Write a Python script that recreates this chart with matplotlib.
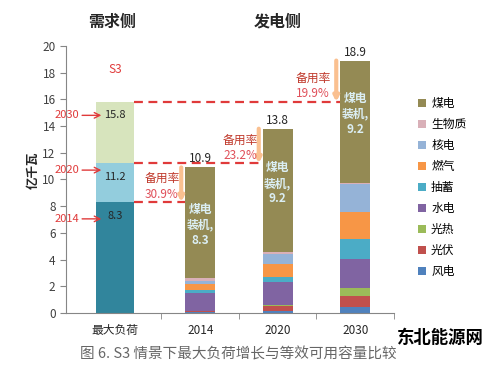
import numpy as np
import matplotlib
matplotlib.use("Agg")
import matplotlib.pyplot as plt
from matplotlib.patches import Patch

plt.rcParams['font.family'] = ['Noto Sans CJK SC', 'DejaVu Sans']

# demand side (max load), stacked as increments
demand_years = ['2014', '2020', '2030']
demand_totals = [8.3, 11.2, 15.8]
demand_colors = ['#31859c', '#93cddd', '#d7e4bd']

# supply side
years = ['2014', '2020', '2030']
sources = ['风电', '光伏', '光热', '水电', '抽蓄', '燃气', '核电', '生物质', '煤电']
colors = ['#4f81bd', '#c0504d', '#9bbb59', '#8064a2', '#4bacc6',
          '#f79646', '#95b3d7', '#d9b0b8', '#948a54']
values = {
    '风电':   [0.10, 0.15, 0.45],
    '光伏':   [0.03, 0.40, 0.80],
    '光热':   [0.00, 0.05, 0.60],
    '水电':   [1.40, 1.75, 2.20],
    '抽蓄':   [0.17, 0.35, 1.50],
    '燃气':   [0.50, 1.00, 2.00],
    '核电':   [0.20, 0.75, 2.10],
    '生物质': [0.20, 0.15, 0.05],
    '煤电':   [8.30, 9.20, 9.20],
}
totals = [10.9, 13.8, 18.9]
reserve = ['30.9%', '23.2%', '19.9%']

fig = plt.figure(figsize=(5.0, 3.67), dpi=100)
ax = fig.add_axes([0.132, 0.147, 0.656, 0.728])

red = '#e03a3a'
xd = -0.1
wd = 0.49
xs = np.array([1.0, 2.0, 3.0])
w = 0.387

# demand bar
bottom = 0
for t, c in zip(demand_totals, demand_colors):
    ax.bar(xd, t - bottom, wd, bottom=bottom, color=c, zorder=2)
    ax.text(xd, t - 1.0, f'{t}', ha='center', va='center', fontsize=8, color='#262626')
    bottom = t

# supply bars
bottom = np.zeros(3)
for s, c in zip(sources, colors):
    v = np.array(values[s])
    ax.bar(xs, v, w, bottom=bottom, color=c, zorder=2)
    bottom += v

for x, t in zip(xs, totals):
    ax.text(x, t + 0.15, f'{t}', ha='center', va='bottom', fontsize=8.5, color='#262626')

coal_y = [6.6, 9.7, 14.9]
for x, y, v in zip(xs, coal_y, values['煤电']):
    ax.text(x, y, f'煤电\n装机,\n{v}', ha='center', va='center', fontsize=8.5,
            color='#dbeef3', fontweight='bold', linespacing=1.25, zorder=3)

# dashed lines from demand bar to supply bars
for i, d in enumerate(demand_totals):
    ax.hlines(d, xd + wd / 2, xs[i] - w / 2, colors=red, linestyles=(0, (4, 2.5)),
              lw=1.6, zorder=3)

# year arrows on demand bar
arrow_y = [7.05, 10.7, 14.8]
for yr, y in zip(demand_years, arrow_y):
    ax.annotate('', xy=(-0.24, y), xytext=(-0.56, y),
                arrowprops=dict(arrowstyle='->', color=red, lw=1.0), annotation_clip=False)
    ax.text(-0.56, y, yr, ha='right', va='center', fontsize=8, color=red, clip_on=False)

# reserve arrows and labels
lab_x = [0.506, 1.513, 2.455]
for i, x in enumerate(xs):
    ax.annotate('', xy=(x - 0.245, demand_totals[i]), xytext=(x - 0.245, totals[i]),
                arrowprops=dict(arrowstyle='-|>', color='#fac090', lw=3, mutation_scale=7,
                                shrinkA=0, shrinkB=0))
    ax.text(lab_x[i], demand_totals[i] + 1.75, '备用率', ha='center', va='center',
            fontsize=8.5, color='#c0392b')
    ax.text(lab_x[i], demand_totals[i] + 0.6, reserve[i], ha='center', va='center',
            fontsize=8.5, color='#e0505a')

ax.text(xd, 18.2, 'S3', ha='center', va='center', fontsize=8.5, color=red)

ax.set_xlim(-0.732, 3.5)
ax.set_ylim(0, 20)
ax.set_yticks(np.arange(0, 21, 2))
ax.set_xticks([xd, 1, 2, 3])
ax.set_xticklabels(['最大负荷'] + years)
ax.set_xticks([0.5, 1.5, 2.5, 3.5], minor=True)
ax.tick_params(axis='x', which='major', length=0, pad=8, labelsize=8.5, colors='#262626')
ax.tick_params(axis='x', which='minor', length=4, color='#868686')
ax.tick_params(axis='y', length=4, labelsize=8.5, colors='#404040', color='#868686')
for sp in ['top', 'right']:
    ax.spines[sp].set_visible(False)
for sp in ['left', 'bottom']:
    ax.spines[sp].set_color('#868686')

handles = [Patch(facecolor=c, label=s) for s, c in zip(sources, colors)][::-1]
fig.legend(handles=handles, loc='center left', bbox_to_anchor=(0.815, 0.489),
           frameon=False, fontsize=8.5, handlelength=0.7, handleheight=0.7,
           handletextpad=0.4, labelspacing=0.68)

fig.text(0.066, 0.535, '亿千瓦', rotation=90, ha='center', va='center',
         fontsize=9, fontweight='bold', color='#262626')
fig.text(112 / 500, 1 - 22 / 367, '需求侧', ha='center', va='center',
         fontsize=11.5, fontweight='bold', color='#262626')
fig.text(278 / 500, 1 - 22 / 367, '发电侧', ha='center', va='center',
         fontsize=11.5, fontweight='bold', color='#262626')
fig.text(238 / 500, 1 - 354 / 367, '图 6. S3 情景下最大负荷增长与等效可用容量比较',
         ha='center', va='center', fontsize=10.5, color='#666666')
fig.text(440 / 500, 1 - 338 / 367, '东北能源网', ha='center', va='center',
         fontsize=12.5, fontweight='bold', color='black')

fig.savefig('out.png', dpi=100)
